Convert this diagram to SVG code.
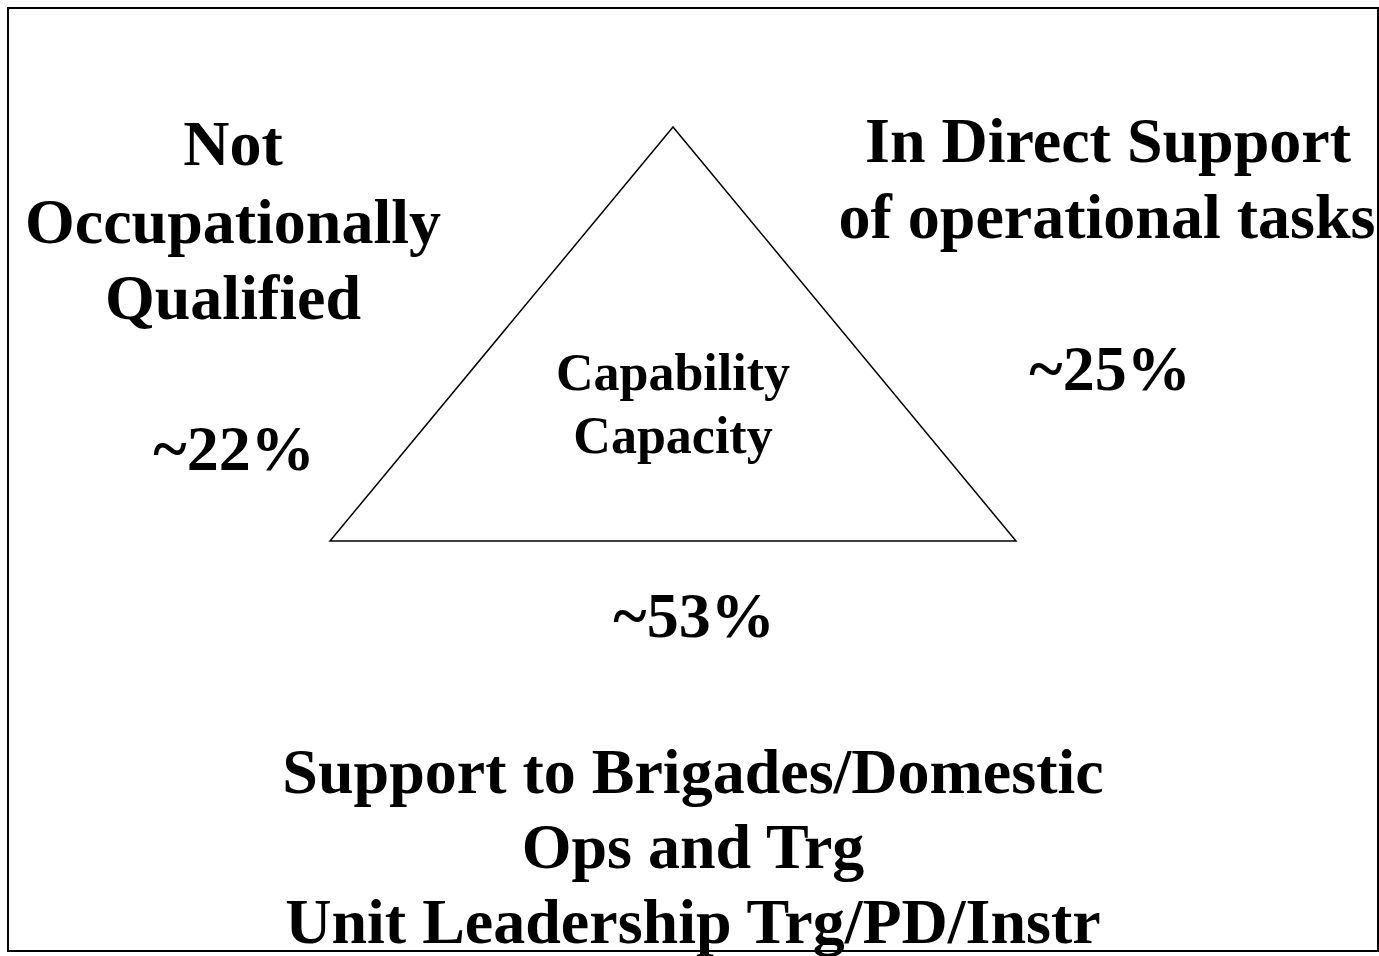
<svg xmlns="http://www.w3.org/2000/svg" width="1379" height="956" viewBox="0 0 1379 956">
<style>
.t{font-family:"Liberation Serif","Times New Roman",serif;font-weight:bold;fill:#000;text-anchor:middle}
.big{font-size:64px}
.mid{font-size:52px}
</style>
<rect width="1379" height="956" fill="#fff"/>
<g id="triangle">
<polygon points="673,127 330,541 1016,541" fill="none" stroke="#000" stroke-width="1.5"/>
<text class="t mid" x="673" y="390">Capability</text>
<text class="t mid" x="673" y="453">Capacity</text>
</g>
<g id="not-qualified">
<text class="t big" x="233" y="165">Not</text>
<text class="t big" x="233" y="243">Occupationally</text>
<text class="t big" x="233" y="319">Qualified</text>
<text class="t big" x="234" y="470">~22%</text>
</g>
<g id="direct-support">
<text class="t big" x="1108" y="162">In Direct Support</text>
<text class="t big" x="1107" y="238">of operational tasks</text>
<text class="t big" x="1110" y="390">~25%</text>
</g>
<g id="support-brigades">
<text class="t big" x="694" y="637">~53%</text>
<text class="t big" x="693" y="793">Support to Brigades/Domestic</text>
<text class="t big" x="693" y="868">Ops and Trg</text>
<text class="t big" x="693" y="943">Unit Leadership Trg/PD/Instr</text>
</g>
<g id="connectors"></g>
<rect x="8" y="8" width="1370" height="943" fill="none" stroke="#000" stroke-width="2"/>
</svg>
